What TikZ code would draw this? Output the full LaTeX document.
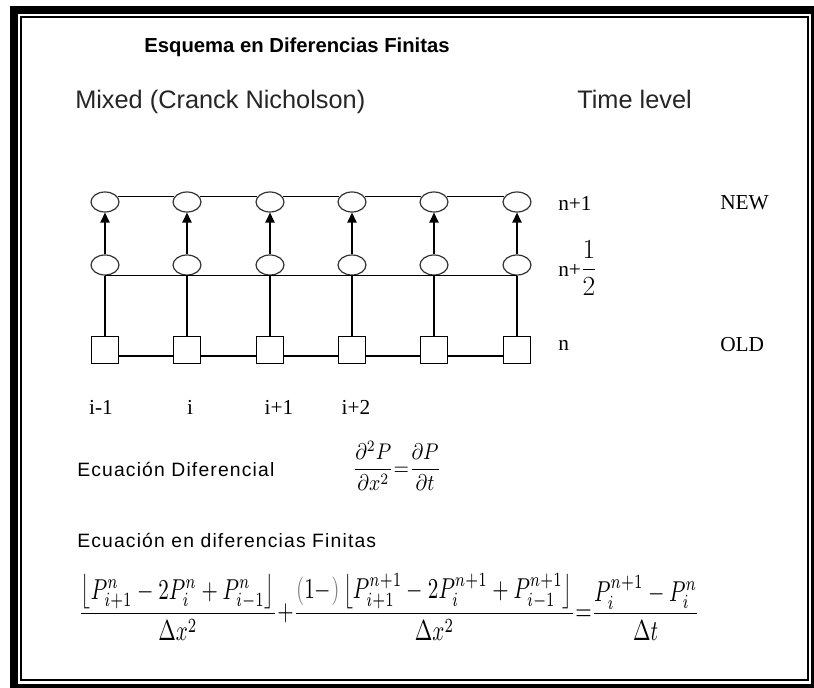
\documentclass[tikz,border=0pt]{standalone}
\usepackage{amsmath}
\usepackage{graphicx}
\usepackage{fontspec}
\setmainfont{Liberation Serif}
\setsansfont{Liberation Sans}
\newfontfamily\spacedsans[LetterSpace=6]{Liberation Sans}
\usetikzlibrary{shapes.geometric,arrows.meta,positioning}

\begin{document}
\begin{tikzpicture}[
        x=0.75pt, y=-0.75pt,
        every node/.style={inner sep=0pt},
        ovalpt/.style={ellipse, draw=black!80, line width=0.9pt, fill=white, minimum width=21pt, minimum height=15pt},
        squarept/.style={rectangle, draw, line width=0.9pt, fill=white, minimum size=20pt},
        link/.style={line width=0.9pt},
        arrow/.style={line width=0.9pt, -{Triangle[length=7.5pt,width=7pt]}},
        level/.style={font=\fontsize{16}{19}\selectfont},
        caption/.style={font=\spacedsans\fontsize{14.5}{17}\selectfont},
        heading/.style={font=\sffamily\fontsize{19}{23}\selectfont, text=black!85}
    ]
    \useasboundingbox (0,0) rectangle (814,688);

    % Frame
    \fill (10,6) rectangle (814,688);
    \fill[white] (18,14) rectangle (811,684);
    \draw[line width=1.3pt] (21,17) rectangle (808,680);

    % Titles
    \node (title) [font=\sffamily\bfseries\fontsize{15.2}{18}\selectfont] at (297,47) {Esquema en Diferencias Finitas};
    \node (scheme) [heading, anchor=base west] at (75,109) {Mixed (Cranck Nicholson)};
    \node (timelevel) [heading, anchor=base west] at (577,109) {Time level};

    % Grid points
    \foreach \i/\x in {1/105,2/187,3/270,4/352,5/434,6/517}{
        \node (t\i) [ovalpt] at (\x,202) {};
        \node (m\i) [ovalpt] at (\x,265) {};
        \node (s\i) [squarept] at (\x,350) {};
    }

    % Connections
    \draw [link] (m1.south) -- (m6.south);
    \foreach \i [evaluate=\i as \j using int(\i+1)] in {1,...,5}{
        \draw [link] (t\i.22) -- (t\j.158);
        \draw [link] ([yshift=-4.5pt]s\i.east) -- ([yshift=-4.5pt]s\j.west);
    }
    \foreach \i in {1,...,6}{
        \draw [arrow] (m\i) -- (t\i);
        \draw [link] (m\i.south) -- (s\i.north);
    }

    % Time levels
    \node (lnew) [level, anchor=west] at (558,203) {n+1};
    \node (new) [level, anchor=west] at (720,203) {NEW};
    \node (lhalf) [level, anchor=west] at (558,268) {n+{\fontsize{20}{24}\selectfont$\dfrac{1}{2}$}};
    \node (lold) [level, anchor=west] at (558,345) {n};
    \node (old) [level, anchor=west] at (720,345) {OLD};

    % Space indices
    \node (im) [level, anchor=base] at (101,414) {i-1};
    \node (i0) [level, anchor=base] at (190,414) {i};
    \node (ip) [level, anchor=base] at (279,414) {i+1};
    \node (ipp) [level, anchor=base] at (356,414) {i+2};

    % Equations
    \node (difflabel) [caption, anchor=base west] at (77,476) {Ecuación Diferencial};
    \node (diffeq) at (397,466) {\resizebox*{66pt}{37pt}{$\dfrac{\partial^2 P}{\partial x^2}{=}\dfrac{\partial P}{\partial t}$}};
    \node (fdlabel) [caption, anchor=base west] at (77,547) {Ecuación en diferencias Finitas};
    \node (fdeq) at (389,607) {\resizebox*{466pt}{50pt}{$\dfrac{\left\lfloor P_{i+1}^{n}-2P_{i}^{n}+P_{i-1}^{n}\right\rfloor}{\Delta x^{2}}{+}\dfrac{{\color{gray}(}1{-}{\color{gray})}\left\lfloor P_{i+1}^{n+1}-2P_{i}^{n+1}+P_{i-1}^{n+1}\right\rfloor}{\Delta x^{2}}{=}\dfrac{P_{i}^{n+1}-P_{i}^{n}}{\Delta t}$}};

\end{tikzpicture}
\end{document}
